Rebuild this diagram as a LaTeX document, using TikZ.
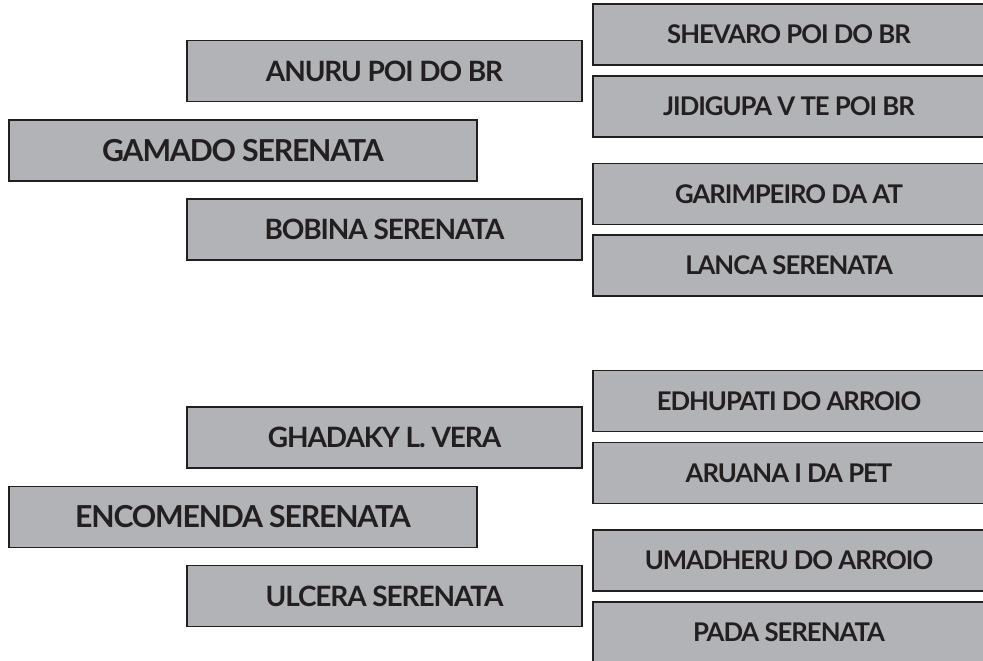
\documentclass[tikz,border=0pt]{standalone}
\usepackage{fontspec}
\setmainfont{Lato}
\usetikzlibrary{positioning}
\definecolor{INK}{HTML}{231F20}
\definecolor{BOX}{HTML}{B2B3B6}

\begin{document}
\begin{tikzpicture}[x=0.75pt,y=-0.75pt]
\tikzset{box/.style={draw=INK,fill=BOX,line width=1.1pt,inner sep=0pt,text=INK,minimum height=45.75pt},
 rootbox/.style={box,minimum width=351pt,font=\bfseries\addfontfeatures{LetterSpace=-4}\fontsize{22.7}{24}\selectfont},
 midbox/.style={box,minimum width=296.25pt,font=\bfseries\addfontfeatures{LetterSpace=-4}\fontsize{21}{22}\selectfont},
 leafbox/.style={box,minimum width=294pt,font=\bfseries\addfontfeatures{LetterSpace=-4}\fontsize{19.3}{21}\selectfont}}
\clip (0,0) rectangle (983,661);
% upper tree
\node[rootbox] (gamado) at (243,150.5) {GAMADO SERENATA};
\node[midbox] (anuru) at (384.5,71) {ANURU POI DO BR};
\node[midbox] (bobina) at (384.5,229.5) {BOBINA SERENATA};
\node[leafbox] (shevaro) at (789,34.5) {SHEVARO POI DO BR};
\node[leafbox] (jidigupa) at (789,106.5) {JIDIGUPA V TE POI BR};
\node[leafbox] (garimpeiro) at (789,194) {GARIMPEIRO DA AT};
\node[leafbox] (lanca) at (789,265.5) {LANCA SERENATA};
% lower tree
\node[rootbox] (encomenda) at (243,517) {ENCOMENDA SERENATA};
\node[midbox] (ghadaky) at (384.5,437.5) {GHADAKY L. VERA};
\node[midbox] (ulcera) at (384.5,596) {ULCERA SERENATA};
\node[leafbox] (edhupati) at (789,401) {EDHUPATI DO ARROIO};
\node[leafbox] (aruana) at (789,473) {ARUANA I DA PET};
\node[leafbox] (umadheru) at (789,560.5) {UMADHERU DO ARROIO};
\node[leafbox] (pada) at (789,632.5) {PADA SERENATA};
\end{tikzpicture}
\end{document}
